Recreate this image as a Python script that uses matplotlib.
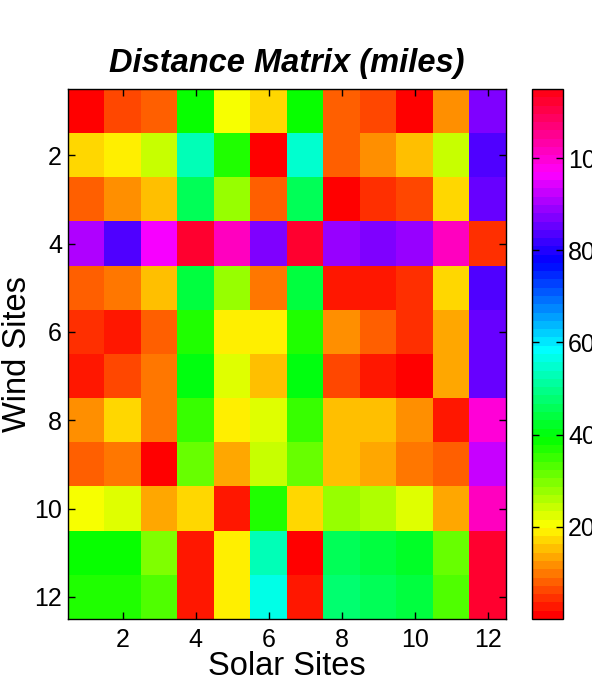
import colorsys
import numpy as np
import matplotlib
matplotlib.use("Agg")
import matplotlib.pyplot as plt
from matplotlib.colors import ListedColormap

solar_sites = list(range(1, 13))
wind_sites = list(range(1, 13))

distances = np.array([
    [0.9, 6.5, 8.4, 38.9, 20.9, 16.9, 38.9, 8.4, 6.5, 0.9, 11.4, 86.9],
    [16.7, 18.6, 23.9, 53.9, 36.9, 0.9, 54.9, 7.9, 11.9, 15.2, 23.9, 83.6],
    [7.9, 11.4, 14.8, 45.9, 27.6, 7.7, 45.9, 0.9, 4.3, 6.9, 16.7, 85.9],
    [90.7, 84.4, 96.7, 112.5, 101.6, 86.9, 112.9, 88.9, 86.9, 88.9, 100.9, 4.3],
    [7.9, 9.9, 14.9, 44.9, 27.6, 9.9, 44.9, 2.8, 2.8, 4.3, 16.7, 83.9],
    [4.7, 3.2, 7.9, 36.7, 18.6, 18.6, 36.7, 11.4, 8.4, 4.7, 13.3, 85.4],
    [3.2, 6.2, 9.9, 40.7, 22.7, 15.2, 40.7, 6.2, 3.2, 0.9, 13.3, 85.4],
    [11.4, 16.7, 9.9, 35.5, 18.6, 22.7, 35.5, 15.2, 15.2, 11.4, 3.2, 100.1],
    [7.9, 9.9, 0.9, 31.3, 13.3, 23.9, 31.3, 15.2, 13.3, 9.9, 7.9, 92.6],
    [20.9, 22.4, 12.9, 16.7, 2.8, 36.7, 16.7, 27.6, 25.9, 22.4, 13.7, 100.9],
    [39.2, 39.2, 29.9, 2.8, 18.6, 53.9, 0.9, 46.7, 44.5, 41.5, 31.4, 111.9],
    [36.9, 36.9, 32.9, 2.8, 18.6, 56.6, 2.8, 47.5, 45.9, 43.7, 33.5, 111.9],
])

tick_vals = [2, 4, 6, 8, 10, 12]
cbar_ticks = [20, 40, 60, 80, 100]

# MATLAB-style hsv(64)
n = 64
cmap = ListedColormap([colorsys.hsv_to_rgb(i / n, 1, 1) for i in range(n)])

plt.rcParams['font.family'] = ['Liberation Sans', 'DejaVu Sans']

fig = plt.figure(figsize=(5.92, 6.8), dpi=100)
ax = fig.add_axes([68 / 592, 1 - 619 / 680, (506 - 68) / 592, (619 - 89) / 680])
cax = fig.add_axes([532 / 592, 1 - 619 / 680, 31 / 592, (619 - 89) / 680])

im = ax.imshow(distances, cmap=cmap, vmin=0, vmax=115, aspect='auto',
               interpolation='nearest',
               extent=[solar_sites[0] - 0.5, solar_sites[-1] + 0.5,
                       wind_sites[-1] + 0.5, wind_sites[0] - 0.5])

ax.set_xticks(tick_vals)
ax.set_yticks(tick_vals)
ax.tick_params(direction='in', length=5, width=1, labelsize=18,
               top=True, right=True)
ax.tick_params(axis='x', pad=6.5)
ax.tick_params(axis='y', pad=4.3)
for s in ax.spines.values():
    s.set_linewidth(1.0)

ax.set_title('Distance Matrix (miles)', fontsize=23.5, fontweight='bold',
             fontstyle='italic', pad=12)
ax.set_xlabel('Solar Sites', fontsize=23.5, labelpad=-1)
ax.set_ylabel('Wind Sites', fontsize=23.5, labelpad=0.5)

cb = fig.colorbar(im, cax=cax, ticks=cbar_ticks)
cb.outline.set_linewidth(1.0)
cax.tick_params(direction='in', length=5, width=1, labelsize=18,
                left=True, right=True, pad=3.6)

fig.savefig('out.png', dpi=100)
